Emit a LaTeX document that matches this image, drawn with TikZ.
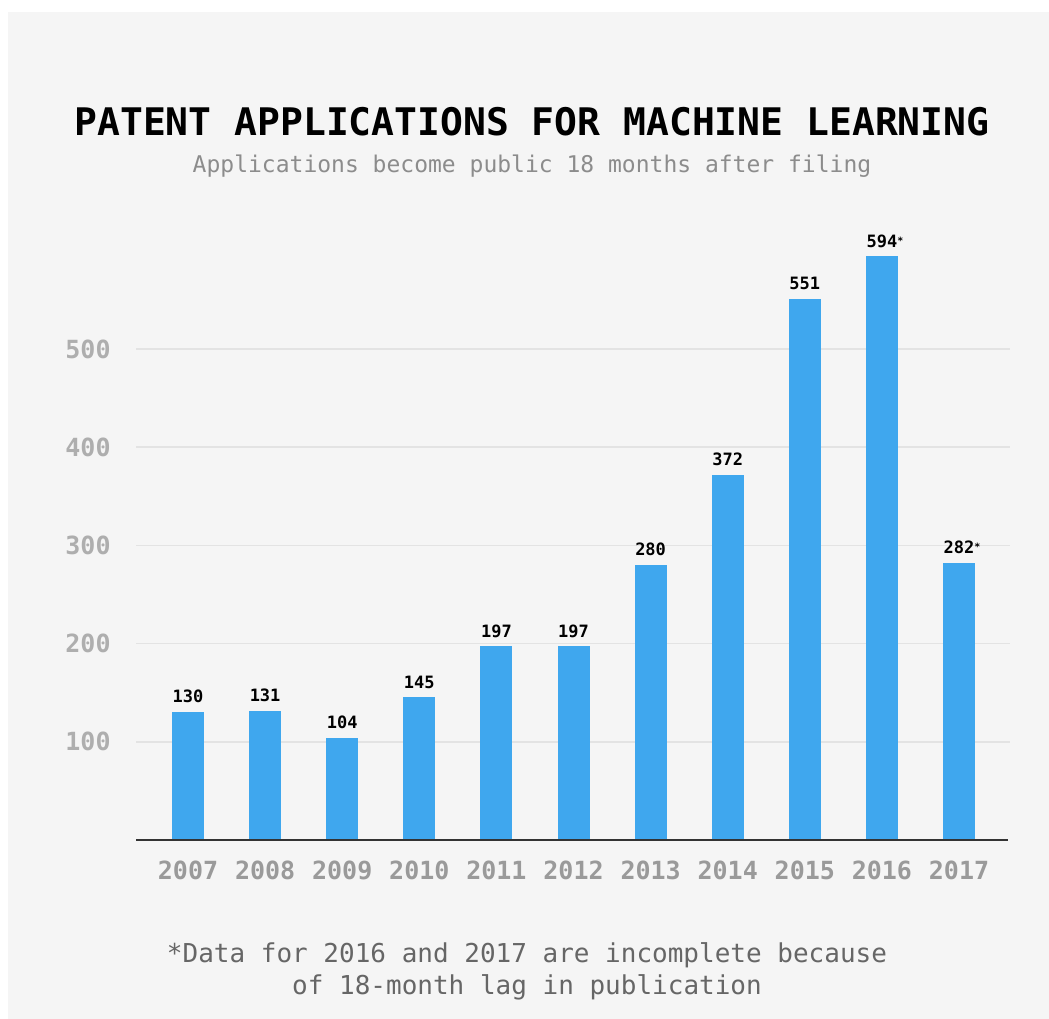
\documentclass[tikz,border=0pt]{standalone}
\usepackage{fontspec}
\usepackage{xcolor}
\usepackage{tikz}
\usetikzlibrary{positioning,calc}
\newfontfamily\chartmono{DejaVu Sans Mono}
\definecolor{panelgray}{HTML}{F5F5F5}
\definecolor{barblue}{HTML}{3FA7EE}
\definecolor{gridgray}{HTML}{E3E3E3}
\definecolor{axisgray}{HTML}{333333}
\definecolor{labelgray}{HTML}{9A9A9A}
\definecolor{subgray}{HTML}{8C8C8C}
\definecolor{notegray}{HTML}{666666}
\tikzset{
barbox/.style={
draw=none,
fill=barblue,
minimum width=32pt,
inner sep=0pt,
anchor=south
},
valuelabel/.style={
anchor=base,
inner sep=0pt,
font=\chartmono\bfseries\fontsize{17}{19}\selectfont
},
yearlabel/.style={
text=labelgray,
inner sep=0pt,
font=\chartmono\bfseries\fontsize{25}{27}\selectfont
},
ticklabel/.style={
text=labelgray!80,
inner sep=0pt,
font=\chartmono\bfseries\fontsize{25}{27}\selectfont
},
gridline/.style={
draw=gridgray,
line width=1.5pt
}
}

\begin{document}
\begin{tikzpicture}[x=1pt,y=-1pt]
\useasboundingbox (0,0) rectangle (1049,1019);
\fill[panelgray] (8,12) rectangle (1049,1019);

% title and subtitle
\node[font=\chartmono\bfseries\fontsize{38}{40}\selectfont](title) at (532,122){PATENT APPLICATIONS FOR MACHINE LEARNING};
\node[font=\chartmono\fontsize{23}{25}\selectfont,text=subgray](sub) at (532,166){Applications become public 18 months after filing};

% grid and tick labels
\foreach \k in {1,...,5}{
\coordinate (gl\k) at (136,{840-98.2*\k});
\coordinate (gr\k) at (1010,{840-98.2*\k});
\draw[gridline](gl\k)--(gr\k);
\node[ticklabel](tick\k) at (88,{840-98.2*\k}){\k00};
}

% bars
\foreach \yr/\v [count=\i from 0] in {2007/130,2008/131,2009/104,2010/145,2011/197,2012/197,2013/280,2014/372,2015/551,2016/594,2017/282}{
\node[barbox,minimum height=\v*0.982pt](bar\yr) at ({188+77.1*\i},840){};
\ifnum\yr>2015
\node[valuelabel,yshift=9pt](val\yr) at (bar\yr.north){\v\rlap{\raisebox{3pt}{\fontsize{10}{10}\selectfont*}}};
\else
\node[valuelabel,yshift=9pt](val\yr) at (bar\yr.north){\v};
\fi
\node[yearlabel](year\yr) at ({188+77.1*\i},870){\yr};
}

% axis
\coordinate (axl) at (136,840);
\coordinate (axr) at (1008,840);
\draw[axisgray,line width=2.5pt](axl)--(axr);

% footnote
\node[font=\chartmono\fontsize{26}{32}\selectfont,text=notegray,align=center](note) at (527,971){*Data for 2016 and 2017 are incomplete because\\of 18-month lag in publication};
\end{tikzpicture}
\end{document}
